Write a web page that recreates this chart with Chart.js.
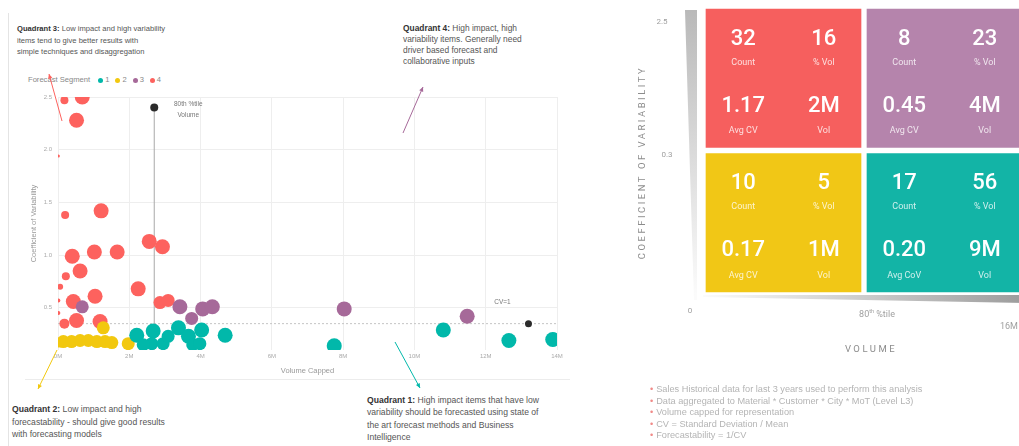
<!DOCTYPE html>
<html>
<head>
<meta charset="utf-8">
<script src="https://cdn.jsdelivr.net/npm/chart.js@4.4.1/dist/chart.umd.min.js"></script>
<style>
  html, body { margin: 0; padding: 0; background: #fff; width: 1019px; height: 446px; overflow: hidden; }
  body { position: relative; font-family: 'Liberation Sans', Arial, sans-serif; }
  #scatterBox { position: absolute; left: 0; top: 0; width: 600px; height: 446px; }
  #matrixBox { position: absolute; left: 620px; top: 0; width: 410px; height: 446px; }
  .frame { position: absolute; background: #e4e4e4; }
  .note { position: absolute; color: #555; white-space: nowrap; }
  .note b { color: #333; }
  .legend { position: absolute; left: 28px; top: 75px; font-size: 7.6px; color: #888; white-space: nowrap; }
  .legend i { display: inline-block; width: 5px; height: 5px; border-radius: 50%; margin: 0 2px 0 6px; vertical-align: -0.5px; }
  .footnotes { position: absolute; left: 650px; top: 384px; font-size: 9.2px; line-height: 11.5px; color: #b4b4b4; white-space: nowrap; }
  .footnotes span { color: #f08a88; margin-right: 3px; }
</style>
</head>
<body>
<div class="frame" style="left:8px; top:13px; width:1px; height:433px;"></div>
<div class="frame" style="left:25px; top:379px; width:545px; height:1px; background:#ececec;"></div>

<div class="note" style="left:17px; top:23px; line-height:11.5px; font-size:7.6px;"><b>Quadrant 3:</b> Low impact and high variability<br>items tend to give better results with<br>simple techniques and disaggregation</div>
<div class="note" style="left:403px; top:23px; line-height:11px; font-size:8.4px;"><b>Quadrant 4:</b> High impact, high<br>variability items. Generally need<br>driver based forecast and<br>collaborative inputs</div>
<div class="note" style="left:12px; top:403px; line-height:12.5px; font-size:8.6px;"><b>Quadrant 2:</b> Low impact and high<br>forecastability - should give good results<br>with forecasting models</div>
<div class="note" style="left:367px; top:394px; line-height:12.3px; font-size:8.6px;"><b>Quadrant 1:</b> High impact items that have low<br>variability should be forecasted using state of<br>the art forecast methods and Business<br>Intelligence</div>

<div id="legend" class="legend"></div>

<div id="scatterBox"><canvas id="grafico-dispersao"></canvas></div>
<div id="matrixBox"><canvas id="grafico-matriz"></canvas></div>

<div class="footnotes">
  <div><span>•</span>Sales Historical data for last 3 years used to perform this analysis</div>
  <div><span>•</span>Data aggregated to Material * Customer * City * MoT (Level L3)</div>
  <div><span>•</span>Volume capped for representation</div>
  <div><span>•</span>CV = Standard Deviation / Mean</div>
  <div><span>•</span>Forecastability = 1/CV</div>
</div>

<script>
// ---- scatter data (volume in M, coefficient of variability, bubble size) ----
const seg1Volume = [2.21, 2.67, 2.63, 2.95, 3.09, 3.38, 3.66, 3.78, 3.98, 4.03, 4.69, 2.39, 7.75, 10.81, 12.65, 13.88];
const seg1CV     = [0.24, 0.28, 0.16, 0.16, 0.23, 0.31, 0.23, 0.15, 0.16, 0.29, 0.24, 0.15, 0.14, 0.29, 0.19, 0.20];
const seg1Size   = [7.5, 7.5, 6.5, 6.5, 6.5, 7.5, 7.5, 6.5, 6.5, 7.5, 7.5, 6.5, 7.5, 7.5, 7.5, 7.5];

const seg2Volume = [1.27, 0.15, 0.38, 0.62, 0.85, 1.09, 1.32, 1.51, 1.97, 0.03];
const seg2CV     = [0.31, 0.18, 0.18, 0.19, 0.19, 0.18, 0.18, 0.17, 0.16, 0.17];
const seg2Size   = [6.5, 6.5, 6.5, 6.5, 6.5, 6.5, 6.5, 6.5, 6.5, 5];

const seg3Volume = [0.68, 3.42, 3.75, 4.06, 4.33, 8.03, 11.48];
const seg3CV     = [0.51, 0.51, 0.40, 0.49, 0.51, 0.49, 0.42];
const seg3Size   = [6.5, 7.5, 6.5, 7.5, 7.5, 7.5, 7.5];

const seg4Volume = [0.18, 0.68, 0.52, 0.01, 0.20, 1.21, 0.40, 1.02, 1.66, 0.62, 0.22, 0.06, 0.01, 0.43, 1.04, 0.01, 0.18, 0.52, 1.18, 2.56, 2.93, 2.25, 2.86, 3.09];
const seg4CV     = [2.47, 2.50, 2.28, 1.94, 1.38, 1.42, 0.99, 1.03, 1.03, 0.85, 0.80, 0.70, 0.57, 0.56, 0.61, 0.45, 0.35, 0.38, 0.37, 1.13, 1.08, 0.68, 0.55, 0.57];
const seg4Size   = [4, 7.5, 7.5, 1.5, 4, 7.5, 7.5, 7.5, 7.5, 7.5, 4, 3, 2, 7.5, 7.5, 2, 5, 7.5, 7.5, 7.5, 7.5, 7.5, 6.5, 6.5];

const segmentNames  = ['1', '2', '3', '4'];
const segmentColors = ['#01B8AA', '#F2C80F', '#A66999', '#FD625E'];

const p80Volume = 2.70;     // 80th percentile volume
const p80MarkerCV = 2.40;
const cvThreshold = 0.35;
const cvMarkerVolume = 13.2;

const xTicks = [0, 2, 4, 6, 8, 10, 12, 14];
const yTicks = [0.5, 1.0, 1.5, 2.0, 2.5];

// ---- matrix data ----
const volumeBands  = ['Below 80th %tile', 'Above 80th %tile'];
const countHighCV  = [32, 8];
const countLowCV   = [10, 17];
const pctVolHighCV = [16, 23];
const pctVolLowCV  = [5, 56];
const avgCvHighCV  = ['1.17', '0.45'];
const avgCvLowCV   = ['0.17', '0.20'];
const volHighCV    = ['2M', '4M'];
const volLowCV     = ['1M', '9M'];
const cvLabelsLowCV = ['Avg CV', 'Avg CoV'];
const matrixColorsHighCV = ['#F65F5E', '#B584AC'];
const matrixColorsLowCV  = ['#F1C716', '#13B4A6'];
const matrixYLabels = ['0', '0.3', '2.5'];

// legend
document.getElementById('legend').innerHTML = 'Forecast Segment ' +
    segmentNames.map((n, i) => '<i style="background:' + segmentColors[i] + '"></i>' + n).join('');

function toPoints(vol, cv, size) {
    return vol.map((v, i) => ({ x: v, y: cv[i], r: size[i] }));
}

function drawArrow(ctx, x1, y1, x2, y2, color) {
    const a = Math.atan2(y2 - y1, x2 - x1);
    ctx.strokeStyle = color;
    ctx.fillStyle = color;
    ctx.lineWidth = 1;
    ctx.beginPath();
    ctx.moveTo(x1, y1);
    ctx.lineTo(x2, y2);
    ctx.stroke();
    ctx.beginPath();
    ctx.moveTo(x2, y2);
    ctx.lineTo(x2 - 5 * Math.cos(a - 0.45), y2 - 5 * Math.sin(a - 0.45));
    ctx.lineTo(x2 - 5 * Math.cos(a + 0.45), y2 - 5 * Math.sin(a + 0.45));
    ctx.closePath();
    ctx.fill();
}

// arrows from the quadrant notes (page pixels)
const noteArrows = [
    { from: [62, 121], to: [49, 74], color: '#FD625E' },
    { from: [403, 133], to: [423, 87], color: '#A66999' },
    { from: [57, 350], to: [38, 389], color: '#F2C80F' },
    { from: [395, 342], to: [420, 388], color: '#01B8AA' }
];

const scatterNotes = {
    id: 'scatterNotes',
    afterDatasetsDraw(chart) {
        const { ctx, scales: { x, y } } = chart;
        ctx.save();
        ctx.font = '6.5px "Liberation Sans"';
        ctx.fillStyle = '#777';
        ctx.textAlign = 'center';
        ctx.textBaseline = 'middle';
        const px = x.getPixelForValue(p80Volume);
        const py = y.getPixelForValue(p80MarkerCV);
        ctx.fillText('80th %tile', px + 34, py - 3);
        ctx.fillText('Volume', px + 34, py + 8);
        const cx = x.getPixelForValue(cvMarkerVolume);
        const cy = y.getPixelForValue(cvThreshold);
        ctx.fillText('CV=1', cx - 26, cy - 21);
        noteArrows.forEach(ar => drawArrow(ctx, ar.from[0], ar.from[1], ar.to[0], ar.to[1], ar.color));
        ctx.restore();
    }
};

const ctxDispersao = document.getElementById('grafico-dispersao');

const graficoDispersao = new Chart(ctxDispersao, {
    type: 'bubble',
    data: {
        datasets: [
            {
                label: 'Segment 1',
                data: toPoints(seg1Volume, seg1CV, seg1Size),
                backgroundColor: segmentColors[0],
                borderWidth: 0,
                clip: 0,
                order: 1
            },
            {
                label: 'Segment 2',
                data: toPoints(seg2Volume, seg2CV, seg2Size),
                backgroundColor: segmentColors[1],
                borderWidth: 0,
                clip: 0,
                order: 1
            },
            {
                label: 'Segment 3',
                data: toPoints(seg3Volume, seg3CV, seg3Size),
                backgroundColor: segmentColors[2],
                borderWidth: 0,
                clip: 0,
                order: 1
            },
            {
                label: 'Segment 4',
                data: toPoints(seg4Volume, seg4CV, seg4Size),
                backgroundColor: segmentColors[3],
                borderWidth: 0,
                clip: 0,
                order: 2
            },
            {
                label: 'Markers',
                data: [{ x: p80Volume, y: p80MarkerCV, r: 4 }, { x: cvMarkerVolume, y: cvThreshold, r: 3.5 }],
                backgroundColor: '#2b2b2b',
                borderWidth: 0,
                order: 0
            },
            {
                type: 'line',
                label: '80th %tile',
                data: [{ x: p80Volume, y: 0.1 }, { x: p80Volume, y: p80MarkerCV }],
                borderColor: '#a8a8a8',
                borderWidth: 1,
                pointRadius: 0,
                order: 5
            },
            {
                type: 'line',
                label: 'CV threshold',
                data: [{ x: xTicks[0], y: cvThreshold }, { x: xTicks[xTicks.length - 1], y: cvThreshold }],
                borderColor: '#c4c4c4',
                borderDash: [2, 2],
                borderWidth: 1,
                pointRadius: 0,
                order: 5
            }
        ]
    },
    options: {
        responsive: true,
        maintainAspectRatio: false,
        animation: false,
        events: [],
        layout: {
            padding: { left: 25, right: 43, top: 97, bottom: 71 }
        },
        scales: {
            x: {
                type: 'linear',
                min: 0,
                max: 14,
                afterFit: s => { s.height = 25; },
                afterBuildTicks: s => { s.ticks = xTicks.map(v => ({ value: v })); },
                ticks: {
                    padding: 3,
                    color: '#aaa',
                    font: { size: 6, family: 'Liberation Sans' },
                    callback: v => v + 'M'
                },
                grid: { color: '#eeeeee', drawTicks: false },
                border: { display: false },
                title: {
                    display: true,
                    text: 'Volume Capped',
                    color: '#999',
                    font: { size: 7.5, family: 'Liberation Sans' },
                    padding: { top: 0, bottom: 0 }
                }
            },
            y: {
                min: 0.1,
                max: 2.5,
                afterFit: s => { s.width = 33; },
                afterBuildTicks: s => { s.ticks = yTicks.map(v => ({ value: v })); },
                ticks: {
                    padding: 6,
                    color: '#aaa',
                    font: { size: 6, family: 'Liberation Sans' },
                    callback: v => v.toFixed(1)
                },
                grid: { color: '#eeeeee', drawTicks: false },
                border: { display: false },
                title: {
                    display: true,
                    text: 'Coefficient of Variability',
                    color: '#999',
                    font: { size: 7.5, family: 'Liberation Sans' },
                    padding: { top: 4, bottom: 0 }
                }
            }
        },
        plugins: {
            legend: { display: false },
            tooltip: { enabled: false }
        }
    },
    plugins: [scatterNotes]
});

// ---- matrix ----
const cellText = {
    id: 'cellText',
    afterDatasetsDraw(chart) {
        const { ctx } = chart;
        const groups = [
            [countHighCV, pctVolHighCV, avgCvHighCV, volHighCV, ['Avg CV', 'Avg CV']],
            [countLowCV, pctVolLowCV, avgCvLowCV, volLowCV, cvLabelsLowCV]
        ];
        ctx.save();
        ctx.textAlign = 'center';
        ctx.textBaseline = 'middle';
        chart.data.datasets.forEach((ds, di) => {
            const meta = chart.getDatasetMeta(di);
            const g = groups[di];
            meta.data.forEach((bar, i) => {
                const p = bar.getProps(['x', 'y', 'base', 'width'], true);
                const left = p.x - p.width / 2;
                const top = Math.min(p.y, p.base);
                const h = Math.abs(p.base - p.y);
                const c1 = left + p.width * 0.25;
                const c2 = left + p.width * 0.75;
                ctx.fillStyle = '#fff';
                ctx.font = '500 22px Roboto';
                ctx.fillText(String(g[0][i]), c1, top + h * 0.23);
                ctx.fillText(String(g[1][i]), c2, top + h * 0.23);
                ctx.fillText(g[2][i], c1, top + h * 0.695);
                ctx.fillText(g[3][i], c2, top + h * 0.695);
                ctx.fillStyle = 'rgba(255,255,255,0.8)';
                ctx.font = '9px Roboto';
                ctx.fillText('Count', c1, top + h * 0.39);
                ctx.fillText('% Vol', c2, top + h * 0.39);
                ctx.fillText(g[4][i], c1, top + h * 0.865);
                ctx.fillText('Vol', c2, top + h * 0.865);
            });
        });
        ctx.restore();
    }
};

const matrixAxes = {
    id: 'matrixAxes',
    afterDraw(chart) {
        const { ctx, chartArea: a } = chart;
        const midX = (a.left + a.right) / 2;
        ctx.save();
        // vertical wedge (CV)
        let g = ctx.createLinearGradient(0, a.top, 0, a.bottom);
        g.addColorStop(0, '#b8b8b8');
        g.addColorStop(1, '#fbfbfb');
        ctx.fillStyle = g;
        ctx.beginPath();
        ctx.moveTo(a.left - 18, a.top + 4);
        ctx.lineTo(a.left - 6, a.top + 4);
        ctx.lineTo(a.left - 6, a.bottom + 5);
        ctx.lineTo(a.left - 9, a.bottom + 5);
        ctx.closePath();
        ctx.fill();
        // horizontal wedge (volume)
        g = ctx.createLinearGradient(a.left, 0, a.right, 0);
        g.addColorStop(0, '#fbfbfb');
        g.addColorStop(1, '#9c9c9c');
        ctx.fillStyle = g;
        ctx.beginPath();
        ctx.moveTo(a.left, a.bottom);
        ctx.lineTo(a.right, a.bottom);
        ctx.lineTo(a.right, a.bottom + 8);
        ctx.lineTo(a.left, a.bottom + 2);
        ctx.closePath();
        ctx.fill();

        ctx.fillStyle = '#a0a0a0';
        ctx.font = '8px Roboto';
        ctx.textAlign = 'center';
        ctx.textBaseline = 'middle';
        ctx.fillText(matrixYLabels[2], a.left - 41, a.top + 16);
        ctx.fillText(matrixYLabels[1], a.left - 36, chart.scales.y.getPixelForValue(1) + 4);
        ctx.fillText(matrixYLabels[0], a.left - 13, a.bottom + 16);

        // 80th %tile
        ctx.textAlign = 'left';
        ctx.font = '9px Roboto';
        const w80 = ctx.measureText('80').width;
        const wRest = ctx.measureText(' %tile').width;
        ctx.font = '5.5px Roboto';
        const wth = ctx.measureText('th').width;
        const sx = midX + 13 - (w80 + wth + wRest) / 2;
        ctx.font = '9px Roboto';
        ctx.fillText('80', sx, a.bottom + 20);
        ctx.fillText(' %tile', sx + w80 + wth, a.bottom + 20);
        ctx.font = '5.5px Roboto';
        ctx.fillText('th', sx + w80, a.bottom + 17);
        ctx.font = '9px Roboto';
        ctx.fillText('16M', a.right - 25, a.bottom + 32);

        ctx.fillStyle = '#8c8c8c';
        ctx.font = '9.5px Roboto';
        ctx.letterSpacing = '2.5px';
        ctx.textAlign = 'center';
        ctx.fillText('VOLUME', midX + 7, a.bottom + 55);
        ctx.translate(a.left - 60, (a.top + a.bottom) / 2 + 12);
        ctx.rotate(-Math.PI / 2);
        ctx.font = '9.5px Roboto';
        ctx.letterSpacing = '2.5px';
        ctx.fillText('COEFFICIENT OF VARIABILITY', 0, 0);
        ctx.restore();
    }
};

const ctxMatriz = document.getElementById('grafico-matriz');

const graficoMatriz = new Chart(ctxMatriz, {
    type: 'bar',
    data: {
        labels: volumeBands,
        datasets: [
            {
                label: 'CV above 0.3',
                data: volumeBands.map(() => [1, 2]),
                backgroundColor: matrixColorsHighCV,
                borderColor: '#fff',
                borderWidth: 3,
                borderSkipped: false
            },
            {
                label: 'CV below 0.3',
                data: volumeBands.map(() => [0, 1]),
                backgroundColor: matrixColorsLowCV,
                borderColor: '#fff',
                borderWidth: 3,
                borderSkipped: false
            }
        ]
    },
    options: {
        responsive: true,
        maintainAspectRatio: false,
        animation: false,
        events: [],
        grouped: false,
        categoryPercentage: 1,
        barPercentage: 1,
        layout: {
            padding: { left: 83, right: 5, top: 6, bottom: 151 }
        },
        scales: {
            x: { display: false },
            y: { display: false, min: 0, max: 2 }
        },
        plugins: {
            legend: { display: false },
            tooltip: { enabled: false }
        }
    },
    plugins: [cellText, matrixAxes]
});
</script>
</body>
</html>
